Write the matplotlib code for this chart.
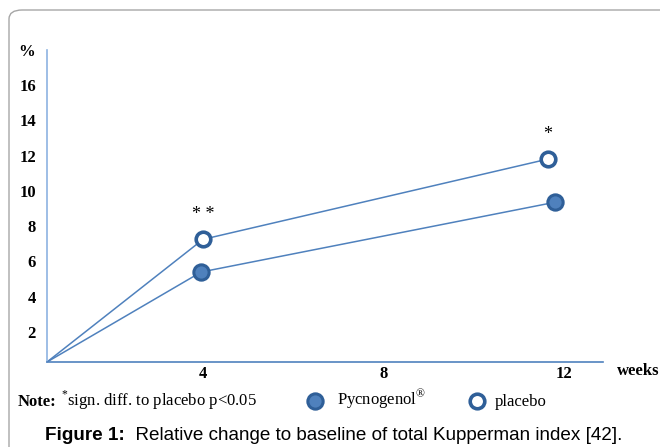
import numpy as np
import matplotlib as mpl
mpl.use("agg")
import matplotlib.pyplot as plt
from matplotlib.lines import Line2D
from matplotlib.patches import FancyBboxPatch

mpl.rcParams['font.family'] = 'Liberation Serif'
mpl.rcParams['mathtext.fontset'] = 'custom'
mpl.rcParams['mathtext.rm'] = 'Liberation Serif'
mpl.rcParams['mathtext.bf'] = 'Liberation Serif:bold'

# values (weeks, % change), on the scale of the tick labels
weeks_pyc = [0.54, 3.96, 11.8]
change_pyc = [0.3, 5.4, 9.35]
weeks_pla = [0.54, 4.0, 11.65]
change_pla = [0.3, 7.25, 11.8]

xticks = [4, 8, 12]
yticks = [2, 4, 6, 8, 10, 12, 14, 16]
stars = {1: "* *", 2: "*"}   # index into placebo series -> significance mark

line_c = "#4f81bd"
edge_c = "#2f5f98"

fig = plt.figure(figsize=(6.6, 4.47), dpi=100)
ax = fig.add_axes([47/660, 1 - 362/447, (603 - 47)/660, (362 - 50)/447])

# rounded frame, open on the right and bottom
frame = FancyBboxPatch((9/660, -0.2), 1.2, 1 - 10/447 + 0.2,
                       boxstyle="round,pad=0,rounding_size=0.02",
                       transform=fig.transFigure, fill=False,
                       ec="#a6a6a6", lw=1.0, clip_on=False)
fig.add_artist(frame)

ax.plot(weeks_pyc, change_pyc, "-", c=line_c, lw=1.1, zorder=2)
ax.plot(weeks_pla, change_pla, "-", c=line_c, lw=1.1, zorder=2)
ax.plot(weeks_pyc[1:], change_pyc[1:], "o", ms=11, mfc="#4f81bd",
        mec=edge_c, mew=2.2, zorder=3)
ax.plot(weeks_pla[1:], change_pla[1:], "o", ms=10.5, mfc="white",
        mec=edge_c, mew=2.6, zorder=3)

for i, s in stars.items():
    ax.annotate(s, (weeks_pla[i], change_pla[i]), xytext=(0, 18),
                textcoords="offset points", ha="center", va="center",
                fontsize=13)

ax.set_xlim(0.54, 12.87)
ax.set_ylim(0.3, 17.98)

for side in ["top", "right"]:
    ax.spines[side].set_visible(False)
ax.spines["left"].set_color("#8db3e2")
ax.spines["bottom"].set_color(line_c)
ax.spines["left"].set_linewidth(1.2)
ax.spines["bottom"].set_linewidth(1.2)

ax.set_xticks(xticks)
ax.set_xticklabels([str(t) for t in xticks], fontweight="bold", fontsize=12)
ax.set_yticks(yticks)
ax.set_yticklabels([str(t) for t in yticks], fontweight="bold", fontsize=12)
ax.tick_params(axis="both", length=0)
ax.tick_params(axis="y", pad=8)
ax.tick_params(axis="x", pad=3)

fig.text(27/660, 1 - 52/447, "%", ha="center", va="center",
         fontsize=12, fontweight="bold")
fig.text(638/660, 1 - 371/447, "weeks", ha="center", va="center",
         fontsize=12, fontweight="bold")

renderer = fig.canvas.get_renderer()


def text_run(x, y, pieces, gap=0, **kw):
    # place text pieces one after another, left to right (x in pixels)
    for s, extra in pieces:
        t = fig.text(x / 660, y, s, ha="left", va="baseline", **kw, **extra)
        x = t.get_window_extent(renderer).x1 + gap


# legend row
ty = 1 - 406/447
text_run(18, ty, [("Note:", {"fontweight": "bold"}),
                  (" ", {}),
                  (r"$^{*}$sign. diff. to placebo p<0.05", {})], fontsize=12)
fig.add_artist(Line2D([315/660], [1 - 401/447], marker="o", ms=11, mfc="#4f81bd",
                      mec=edge_c, mew=2.2, transform=fig.transFigure))
fig.text(337/660, ty, r"Pycnogenol$^{®}$", ha="left", va="baseline",
         fontsize=12)
fig.add_artist(Line2D([477/660], [1 - 401/447], marker="o", ms=10.5, mfc="white",
                      mec=edge_c, mew=2.6, transform=fig.transFigure))
fig.text(495/660, ty, "placebo", ha="left", va="baseline", fontsize=12)

text_run(45, 1 - 440/447, [("Figure 1:", {"fontweight": "bold"}),
                           ("  Relative change to baseline of total Kupperman index [42].", {})],
         fontsize=13.6, family="Liberation Sans")

fig.savefig("out.png", dpi=100)
